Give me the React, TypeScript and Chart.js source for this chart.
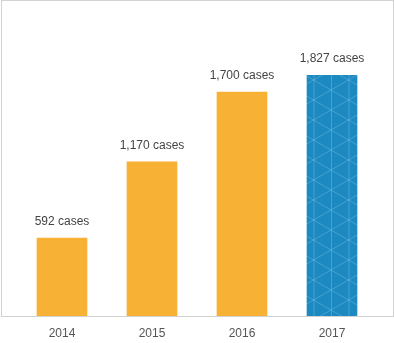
import React, { useEffect, useRef } from "react";
import { Chart, registerables } from "chart.js";

Chart.register(...registerables);

const years = ["2014", "2015", "2016", "2017"];
const cases = [592, 1170, 1700, 1827];
const caseLabels = ["592 cases", "1,170 cases", "1,700 cases", "1,827 cases"];

const ORANGE = "#f7b135";
const BLUE = "#1c89c0";

function makePattern(): CanvasPattern | string {
  const d = 17.5;
  const L = (2 * d) / Math.sqrt(3);
  const w = Math.round(2 * d);
  const c = document.createElement("canvas");
  c.width = w;
  c.height = Math.round(L * 2);
  const ctx = c.getContext("2d");
  if (!ctx) return BLUE;
  const H = c.height;
  ctx.fillStyle = BLUE;
  ctx.fillRect(0, 0, w, H);
  ctx.strokeStyle = "rgba(120,190,230,0.45)";
  ctx.lineWidth = 1;
  ctx.beginPath();
  ctx.moveTo(0.5, 0);
  ctx.lineTo(0.5, H);
  ctx.moveTo(w / 2 + 0.5, 0);
  ctx.lineTo(w / 2 + 0.5, H);
  const s = H / 2 / w;
  for (let k = -3; k <= 3; k++) {
    const c0 = (k * H) / 2;
    ctx.moveTo(0, c0);
    ctx.lineTo(w, c0 + s * w);
    ctx.moveTo(0, c0 + s * w);
    ctx.lineTo(w, c0);
  }
  ctx.stroke();
  const p = ctx.createPattern(c, "repeat");
  if (!p) return BLUE;
  try {
    p.setTransform(new DOMMatrix().translate(314 % (w / 2) - 0.5, 10));
  } catch (e) {}
  return p;
}

const framePlugin = {
  id: "frame",
  afterDraw(chart: any) {
    const { ctx, chartArea } = chart;
    const b = Math.round(chartArea.bottom) + 0.5;
    ctx.save();
    ctx.strokeStyle = "#d2d2d2";
    ctx.lineWidth = 1;
    ctx.strokeRect(1.5, 0.5, 392, b - 0.5);
    ctx.restore();
  },
};

const labelPlugin = {
  id: "caseLabels",
  afterDatasetsDraw(chart: any) {
    const { ctx } = chart;
    const meta = chart.getDatasetMeta(0);
    ctx.save();
    ctx.fillStyle = "#444444";
    ctx.font = "12px 'Liberation Sans', Arial, sans-serif";
    ctx.textAlign = "center";
    ctx.textBaseline = "middle";
    meta.data.forEach((bar: any, i: number) => {
      ctx.fillText(caseLabels[i], bar.x, bar.y - 16.5);
    });
    ctx.restore();
  },
};

export default function App() {
  const ref = useRef<HTMLCanvasElement>(null);
  useEffect(() => {
    if (!ref.current) return;
    const pattern = makePattern();
    const colors = cases.map((_, i) => (i === cases.length - 1 ? pattern : ORANGE));
    const chart = new Chart(ref.current, {
      type: "bar",
      data: {
        labels: years,
        datasets: [
          {
            data: cases,
            backgroundColor: colors as any,
            borderWidth: 0,
            barThickness: 50,
          },
        ],
      },
      options: {
        responsive: false,
        animation: false,
        layout: { padding: { left: 17, right: 17, top: 0, bottom: 0 } },
        plugins: { legend: { display: false }, tooltip: { enabled: false } },
        scales: {
          x: {
            grid: { display: false, drawTicks: false },
            border: { display: false },
            afterFit: (scale: any) => {
              scale.height = 27;
            },
            ticks: {
              color: "#555555",
              padding: 10,
              font: { family: "'Liberation Sans', Arial, sans-serif", size: 12 },
            },
          },
          y: { display: false, min: 0, max: 2400 },
        },
      },
      plugins: [framePlugin, labelPlugin],
    });
    return () => chart.destroy();
  }, []);
  return (
    <div style={{ position: "fixed", left: 0, top: 0, width: 394, height: 343, background: "#fff" }}>
      <canvas ref={ref} width={394} height={343} style={{ display: "block" }} />
    </div>
  );
}
